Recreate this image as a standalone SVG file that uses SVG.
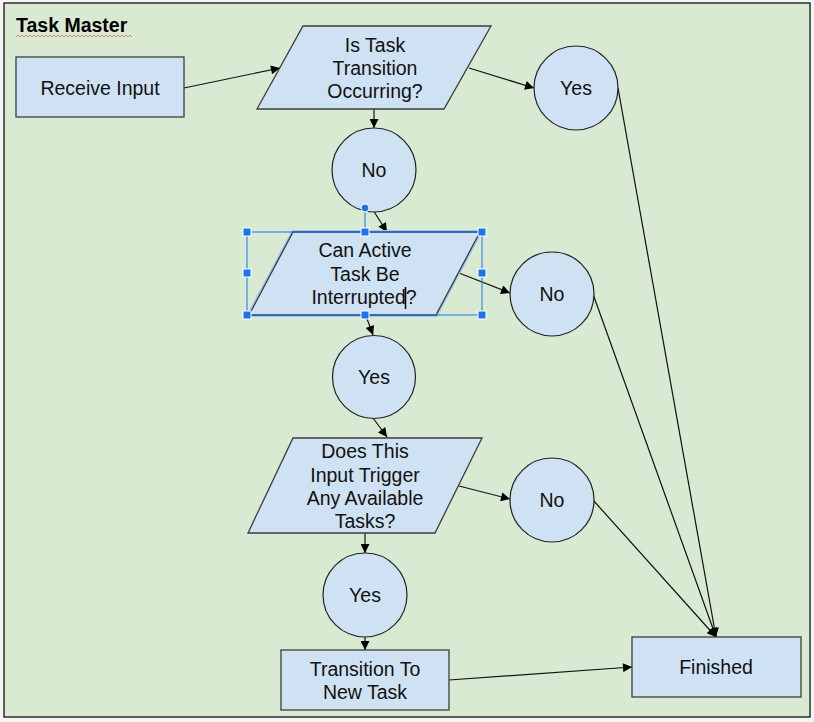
<svg xmlns="http://www.w3.org/2000/svg" width="814" height="722" viewBox="0 0 814 722">
<defs>
<style>
.shape{fill:#cfe2f3;stroke:#3c3c3c;stroke-width:1.3}
.circ{fill:#cfe2f3;stroke:#222;stroke-width:1.2}
.t{font-family:"Liberation Sans",Arial,sans-serif;font-size:19.5px;fill:#111;text-anchor:middle}
.title{font-family:"Liberation Sans",Arial,sans-serif;font-size:19.5px;font-weight:bold;fill:#000}
.c{fill:none;stroke:#111;stroke-width:1.2;marker-end:url(#ah)}
.sel{fill:none;stroke:#1a73e8;stroke-width:1}
.h{fill:#1a73e8;stroke:#fff;stroke-width:1}
</style>
<marker id="ah" viewBox="0 0 10 10" refX="10" refY="5" markerWidth="11" markerHeight="9" markerUnits="userSpaceOnUse" orient="auto">
<path d="M0,0 L10,5 L0,10 z" fill="#000"/>
</marker>
</defs>
<rect x="0" y="0" width="814" height="722" fill="#f4f4f4"/>
<rect x="4" y="3" width="806" height="714" fill="#d9ead3" stroke="#111" stroke-width="1.3"/>
<text class="title" x="16" y="32">Task Master</text>
<path d="M16,37 l2,-2 l2,2 l2,-2 l2,2 l2,-2 l2,2 l2,-2 l2,2 l2,-2 l2,2 l2,-2 l2,2 l2,-2 l2,2 l2,-2 l2,2 l2,-2 l2,2 l2,-2 l2,2 l2,-2 l2,2 l2,-2 l2,2 l2,-2 l2,2 l2,-2 l2,2 l2,-2 l2,2 l2,-2 l2,2 l2,-2 l2,2 l2,-2 l2,2 l2,-2 l2,2 l2,-2 l2,2 l2,-2 l2,2 l2,-2 l2,2 l2,-2 l2,2 l2,-2 l2,2 l2,-2 l2,2 l2,-2 l2,2 l2,-2 l2,2 l2,-2 l2,2 l2,-2 l2,2" fill="none" stroke="#e06666" stroke-width="0.8"/>

<g id="connectors">
<line class="c" x1="184" y1="88" x2="280" y2="68"/>
<line class="c" x1="469" y1="68" x2="534" y2="88"/>
<line class="c" x1="374" y1="109" x2="374" y2="128"/>
<line class="c" x1="373" y1="210" x2="387" y2="232"/>
<line class="c" x1="459" y1="273" x2="510" y2="293"/>
<line class="c" x1="366" y1="316" x2="373" y2="335"/>
<line class="c" x1="373" y1="418" x2="387" y2="437"/>
<line class="c" x1="459" y1="486" x2="510" y2="499"/>
<line class="c" x1="365" y1="533" x2="365" y2="553"/>
<line class="c" x1="365" y1="637" x2="365" y2="650"/>
<line class="c" x1="449" y1="680" x2="632" y2="667"/>
<line class="c" x1="618" y1="88" x2="716" y2="637"/>
<line class="c" x1="593" y1="294" x2="716" y2="637"/>
<line class="c" x1="593" y1="500" x2="716" y2="637"/>
</g>

<g id="receive-input">
<rect class="shape" x="16" y="57" width="168" height="60"/>
<text class="t" x="100" y="95">Receive Input</text>
</g>

<g id="is-task-transition">
<polygon class="shape" points="303,26 491,26 444,109 257,109"/>
<text class="t" x="375" y="52">Is Task</text>
<text class="t" x="375" y="75">Transition</text>
<text class="t" x="375" y="98">Occurring?</text>
</g>

<g id="yes-1">
<circle class="circ" cx="576" cy="88" r="42"/>
<text class="t" x="576" y="95">Yes</text>
</g>

<g id="no-1">
<circle class="circ" cx="374" cy="170" r="42"/>
<text class="t" x="374" y="177">No</text>
</g>

<g id="can-active-task">
<polygon points="293,232 480,232 436,315 249,315" fill="none" stroke="#9fc5f8" stroke-width="4"/>
<polygon class="shape" points="293,232 480,232 436,315 249,315"/>
<text class="t" x="365" y="257">Can Active</text>
<text class="t" x="365" y="281">Task Be</text>
<text class="t" x="364" y="304">Interrupted?</text>
<line x1="405.5" y1="287" x2="405.5" y2="309" stroke="#000" stroke-width="1.5"/>
</g>

<g id="selection">
<line class="sel" x1="365" y1="208" x2="365" y2="232"/>
<rect class="sel" x="247" y="232" width="235" height="83"/>
<circle cx="365" cy="208" r="4" fill="#1a73e8" stroke="#fff" stroke-width="1"/>
<rect class="h" x="243" y="228" width="8" height="8"/>
<rect class="h" x="361" y="228" width="8" height="8"/>
<rect class="h" x="478" y="228" width="8" height="8"/>
<rect class="h" x="243" y="269" width="8" height="8"/>
<rect class="h" x="478" y="269" width="8" height="8"/>
<rect class="h" x="243" y="311" width="8" height="8"/>
<rect class="h" x="361" y="311" width="8" height="8"/>
<rect class="h" x="478" y="311" width="8" height="8"/>
</g>

<g id="no-2">
<circle class="circ" cx="552" cy="294" r="42"/>
<text class="t" x="552" y="301">No</text>
</g>

<g id="yes-2">
<circle class="circ" cx="374" cy="377" r="41.5"/>
<text class="t" x="374" y="384">Yes</text>
</g>

<g id="does-input-trigger">
<polygon class="shape" points="293,438 482,438 435,533 248,533"/>
<text class="t" x="365" y="458">Does This</text>
<text class="t" x="365" y="482">Input Trigger</text>
<text class="t" x="365" y="505">Any Available</text>
<text class="t" x="365" y="528">Tasks?</text>
</g>

<g id="no-3">
<circle class="circ" cx="552" cy="500" r="42"/>
<text class="t" x="552" y="507">No</text>
</g>

<g id="yes-3">
<circle class="circ" cx="365" cy="595" r="42"/>
<text class="t" x="365" y="602">Yes</text>
</g>

<g id="transition-new-task">
<rect class="shape" x="281" y="650" width="168" height="60"/>
<text class="t" x="365" y="676">Transition To</text>
<text class="t" x="365" y="699">New Task</text>
</g>

<g id="finished">
<rect class="shape" x="632" y="637" width="169" height="60"/>
<text class="t" x="716" y="674">Finished</text>
</g>
</svg>
